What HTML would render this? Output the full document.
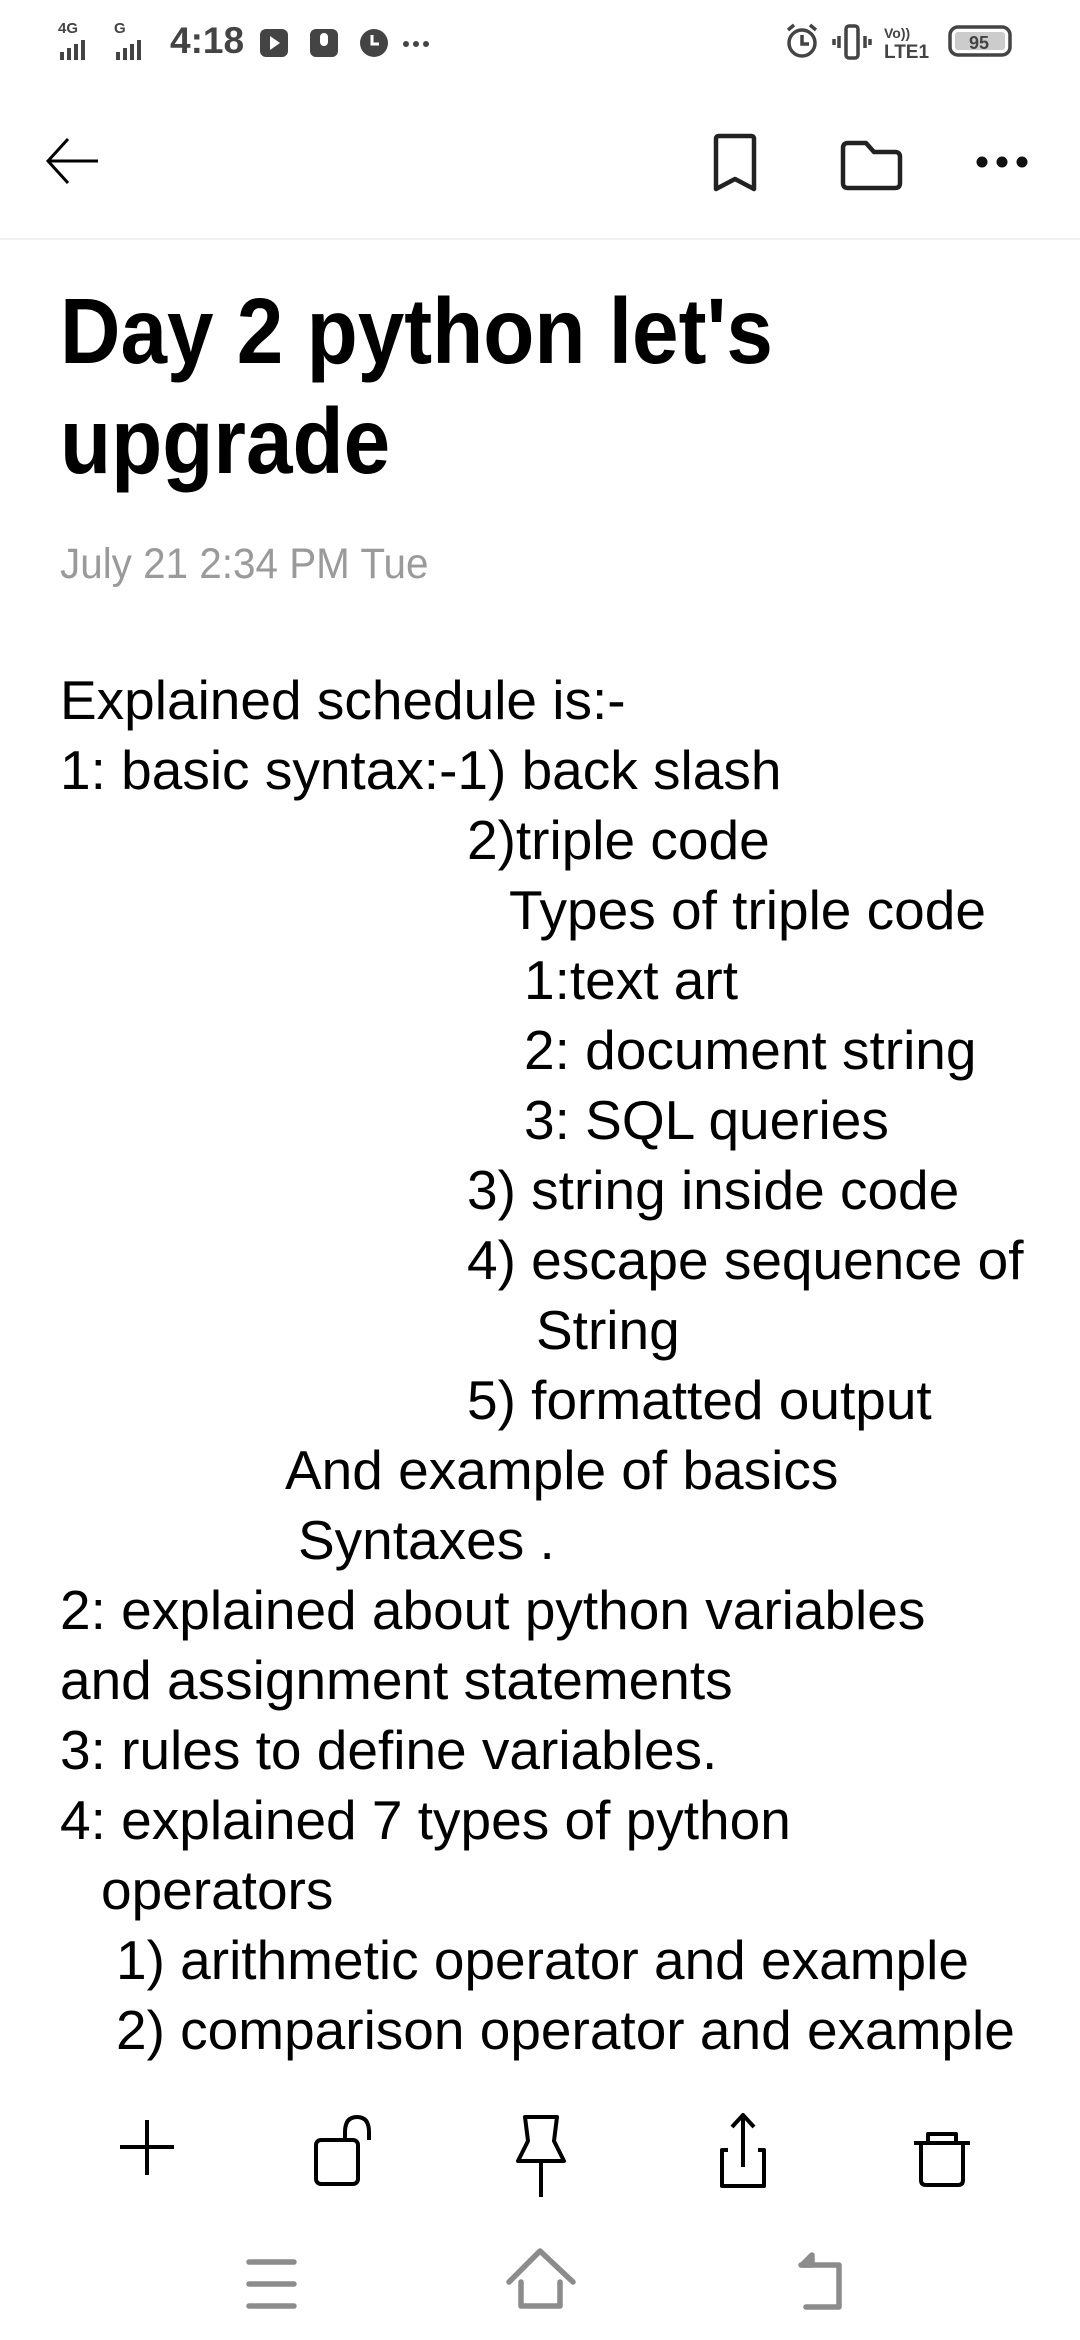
<!DOCTYPE html>
<html><head><meta charset="utf-8"><style>
html,body{margin:0;padding:0;background:#fff;}
body{width:1080px;height:2340px;position:relative;overflow:hidden;font-family:"Liberation Sans",Arial,sans-serif;color:#000;}
.a{position:absolute;white-space:nowrap;}
.l{position:absolute;white-space:nowrap;font-size:55px;line-height:70px;height:70px;}
svg{position:absolute;overflow:visible;}
</style></head><body>
<!-- status bar -->
<div class="a" style="left:58px;top:20px;font-size:15px;font-weight:bold;color:#444">4G</div>
<div class="a" style="left:114px;top:20px;font-size:15px;font-weight:bold;color:#444">G</div>
<svg style="left:60px;top:38px" width="100" height="24"><g fill="#444">
<rect x="0" y="14" width="4" height="8"/><rect x="7" y="10" width="4" height="12"/><rect x="14" y="6" width="4" height="16"/><rect x="21" y="2" width="4" height="20"/>
<rect x="56" y="14" width="4" height="8"/><rect x="63" y="10" width="4" height="12"/><rect x="70" y="6" width="4" height="16"/><rect x="77" y="2" width="4" height="20"/></g></svg>
<div class="a" style="left:170px;top:20px;font-size:37px;font-weight:bold;color:#444">4:18</div>
<svg style="left:258px;top:28px" width="200" height="30"><g fill="#444">
<rect x="2" y="1" width="28" height="28" rx="6"/><polygon points="12,8 22,15 12,22" fill="#fff"/>
<rect x="52" y="1" width="28" height="28" rx="6"/><rect x="62" y="5" width="8" height="13" rx="4" fill="#fff"/>
<circle cx="116" cy="15" r="14"/><path d="M114 7v9h7" stroke="#fff" stroke-width="3" fill="none"/>
<circle cx="148" cy="16" r="3"/><circle cx="158" cy="16" r="3"/><circle cx="168" cy="16" r="3"/></g></svg>
<svg style="left:784px;top:22px" width="240" height="40"><g stroke="#444" stroke-width="3.5" fill="none">
<circle cx="18" cy="21" r="13"/><path d="M18 13v9h7"/><path d="M4 8l6-5M32 8l-6-5"/>
<rect x="62" y="4" width="12" height="32" rx="3"/><path d="M55 14v12M81 14v12M50 17v6M86 17v6"/>
<rect x="166" y="5" width="60" height="28" rx="8"/></g>
<rect x="171" y="10" width="50" height="18" rx="3" fill="#ccc"/>
<text x="185" y="27" font-size="18" font-weight="bold" fill="#444" font-family="Liberation Sans">95</text>
<text x="100" y="16" font-size="14" font-weight="bold" fill="#444" font-family="Liberation Sans">Vo))</text>
<text x="100" y="36" font-size="19" font-weight="bold" fill="#444" font-family="Liberation Sans">LTE1</text></svg>
<!-- header -->
<svg style="left:44px;top:135px" width="60" height="52"><path d="M54 26H4M24 4L4 26l20 22" stroke="#000" stroke-width="3" fill="none"/></svg>
<svg style="left:712px;top:134px" width="50" height="60"><path d="M4 5q0-3 3-3h32q3 0 3 3v50l-19-10-19 10z" stroke="#222" stroke-width="4.5" fill="none" stroke-linejoin="round"/></svg>
<svg style="left:840px;top:140px" width="64" height="52"><path d="M3 8q0-5 5-5h18l8 9h21q5 0 5 5v26q0 5-5 5H8q-5 0-5-5z" stroke="#222" stroke-width="4.5" fill="none" stroke-linejoin="round"/></svg>
<svg style="left:974px;top:152px" width="60" height="20"><g fill="#111"><circle cx="8" cy="10" r="5.5"/><circle cx="28" cy="10" r="5.5"/><circle cx="48" cy="10" r="5.5"/></g></svg>
<div class="a" style="left:0;top:238px;width:1080px;height:2px;background:#f2f2f2"></div>
<!-- title -->
<div class="a" style="left:60px;top:276px;font-size:93px;font-weight:bold;line-height:110px;transform:scaleX(0.9);transform-origin:0 0">Day 2 python let's<br>upgrade</div>
<div class="a" style="left:60px;top:540px;font-size:43px;color:#9a9a9a;transform:scaleX(0.94);transform-origin:0 0">July 21 2:34 PM Tue</div>
<!-- body -->
<div class="l" style="left:60px;top:665px">Explained schedule is:-</div>
<div class="l" style="left:60px;top:735px">1: basic syntax:-1) back slash</div>
<div class="l" style="left:467px;top:805px">2)triple code</div>
<div class="l" style="left:509px;top:875px">Types of triple code</div>
<div class="l" style="left:524px;top:945px">1:text art</div>
<div class="l" style="left:524px;top:1015px">2: document string</div>
<div class="l" style="left:524px;top:1085px">3: SQL queries</div>
<div class="l" style="left:467px;top:1155px">3) string inside code</div>
<div class="l" style="left:467px;top:1225px">4) escape sequence of</div>
<div class="l" style="left:536px;top:1295px">String</div>
<div class="l" style="left:467px;top:1365px">5) formatted output</div>
<div class="l" style="left:285px;top:1435px">And example of basics</div>
<div class="l" style="left:298px;top:1505px">Syntaxes .</div>
<div class="l" style="left:60px;top:1575px">2: explained about python variables</div>
<div class="l" style="left:60px;top:1645px">and assignment statements</div>
<div class="l" style="left:60px;top:1715px">3: rules to define variables.</div>
<div class="l" style="left:60px;top:1785px">4: explained 7 types of python</div>
<div class="l" style="left:101px;top:1855px">operators</div>
<div class="l" style="left:116px;top:1925px">1) arithmetic operator and example</div>
<div class="l" style="left:116px;top:1995px">2) comparison operator and example</div>
<!-- bottom toolbar -->
<svg style="left:0;top:2110px" width="1080" height="80"><g stroke="#000" stroke-width="4" fill="none" stroke-linejoin="round">
<path d="M147 10v55M120 37h54"/>
<rect x="316" y="30" width="42" height="44" rx="5"/><path d="M345 30v-8q0-15 12-15t12 15v8"/>
<path d="M525 7h32l-3 24 10 20h-46l10-20z M541 51v36"/>
<path d="M728 40h-6v36h42v-36h-6M743 5v52M732 17l11-12 11 12"/>
<path d="M914 33h56M928 33v-9h28v9M921 33v37q0 5 5 5h32q5 0 5-5v-37"/></g></svg>
<!-- nav bar -->
<svg style="left:0;top:2240px" width="1080" height="80"><g stroke="#8c8c8c" stroke-width="5.5" fill="none" stroke-linecap="round" stroke-linejoin="round">
<path d="M249 22h45M249 44h45M249 66h45"/>
<path d="M509 42l31-31 33 31M521 42v24h39v-24"/>
<path d="M801 25h38v42h-33"/><path d="M812 15l-10 10 10 0z" fill="#8c8c8c"/></g></svg>
</body></html>
